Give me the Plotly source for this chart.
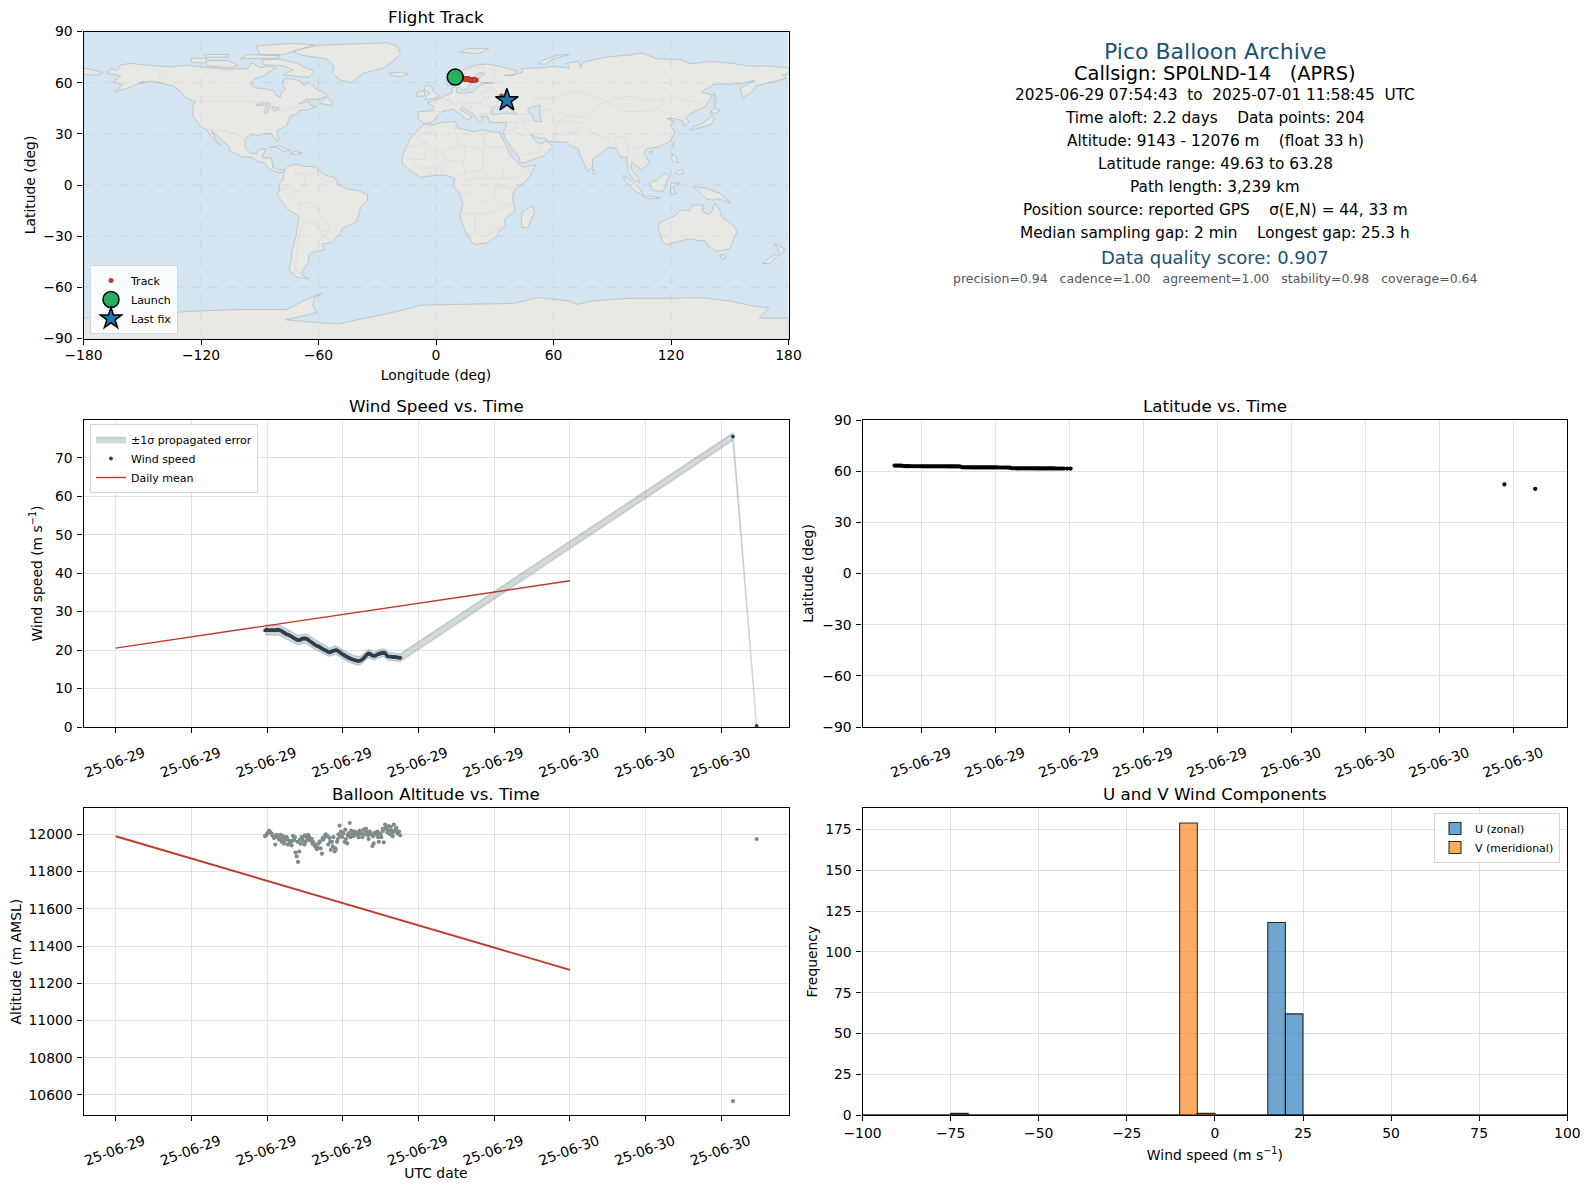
import plotly.graph_objects as go

# the page keeps an 8 px body margin, so the canvas is that much smaller than the window
PAGE_MARGIN = 8
W = 1589 - 2 * PAGE_MARGIN
H = 1189 - 2 * PAGE_MARGIN

# ---- timeline (UTC, 2025-06-29 unless stated) ----
float_time = [
    "07:54", "07:58", "08:02", "08:06", "08:10", "08:14", "08:18", "08:22", "08:26", "08:30", "08:34", "08:38",
    "08:42", "08:46", "08:50", "08:54", "08:58", "09:02", "09:06", "09:10", "09:14", "09:18", "09:22", "09:26",
    "09:30", "09:34", "09:38", "09:42", "09:46", "09:50", "09:54", "09:58", "10:02", "10:06", "10:10", "10:14",
    "10:18", "10:22", "10:26", "10:30", "10:34", "10:38", "10:42", "10:46", "10:50", "10:54", "10:58", "11:02",
    "11:06", "11:10", "11:14", "11:18", "11:22", "11:26", "11:30", "11:34", "11:38", "11:42", "11:46", "11:50",
    "11:54", "11:58", "12:02", "12:06", "12:10", "12:14", "12:18", "12:22", "12:26", "12:30", "12:34", "12:38",
    "12:42", "12:46", "12:50", "12:54", "12:58", "13:02", "13:06", "13:10", "13:14", "13:18", "13:22", "13:26",
    "13:30", "13:34", "13:38", "13:42", "13:46", "13:50", "13:54", "13:58", "14:02", "14:06", "14:10", "14:14",
    "14:18", "14:22", "14:26", "14:30", "14:34", "14:38", "14:42", "14:46", "14:50", "14:54", "14:58", "15:02",
]
last_time = ["2025-06-30 08:37", "2025-06-30 09:52"]

wind_speed = [
    25.1, 25.3, 25.2, 25.2, 25.1, 25.2, 25.2, 25.1, 25.2, 25.2, 25.3, 25.2,
    25.1, 25.0, 24.7, 24.5, 24.3, 24.1, 24.0, 23.9, 23.7, 23.5, 23.3, 23.1,
    22.9, 22.7, 22.6, 22.6, 22.7, 22.9, 23.0, 23.0, 23.0, 22.9, 22.7, 22.4,
    22.2, 22.0, 21.7, 21.5, 21.3, 21.1, 21.0, 20.8, 20.6, 20.4, 20.2, 20.0,
    19.9, 19.7, 19.5, 19.4, 19.5, 19.7, 19.8, 19.9, 20.0, 19.9, 19.7, 19.5,
    19.2, 19.0, 18.8, 18.6, 18.4, 18.2, 18.0, 17.9, 17.7, 17.6, 17.5, 17.4,
    17.3, 17.2, 17.2, 17.2, 17.4, 17.6, 17.9, 18.2, 18.6, 18.9, 19.1, 19.0,
    18.8, 18.6, 18.5, 18.5, 18.7, 18.9, 19.0, 19.1, 19.2, 19.3, 19.3, 19.2,
    18.8, 18.4, 18.3, 18.3, 18.3, 18.2, 18.2, 18.2, 18.1, 18.1, 18.0, 18.0,
]
wind_err = [
    1.3, 1.3, 1.3, 1.3, 1.3, 1.3, 1.3, 1.3, 1.3, 1.3, 1.3, 1.3,
    1.3, 1.3, 1.3, 1.3, 1.3, 1.3, 1.3, 1.3, 1.3, 1.2, 1.2, 1.2,
    1.2, 1.2, 1.2, 1.2, 1.2, 1.2, 1.2, 1.2, 1.2, 1.2, 1.2, 1.2,
    1.2, 1.2, 1.2, 1.2, 1.2, 1.2, 1.2, 1.2, 1.2, 1.1, 1.1, 1.1,
    1.1, 1.1, 1.1, 1.1, 1.1, 1.1, 1.1, 1.1, 1.1, 1.1, 1.1, 1.1,
    1.1, 1.1, 1.1, 1.1, 1.1, 1.1, 1.1, 1.1, 1.1, 1.1, 1.1, 1.1,
    1.1, 1.1, 1.1, 1.1, 1.1, 1.1, 1.1, 1.1, 1.1, 1.1, 1.1, 1.1,
    1.0, 1.0, 1.0, 1.0, 1.0, 1.0, 1.0, 1.0, 1.0, 1.0, 1.0, 1.0,
    1.0, 1.0, 1.0, 1.0, 1.0, 1.0, 1.0, 1.0, 1.0, 1.0, 1.0, 1.0,
]
last_wind = [75.5, 0.3]
last_wind_err = [0.9, 0.2]

mean_time = ["2025-06-29 00:00", "2025-06-30 00:00"]
mean_wind = [20.5, 38.0]
mean_alt = [11990, 11272]

# None = no fix at that stamp, the last few samples are spaced out
float_lat = [
    63.28, 63.28, 63.27, 63.26, 63.22, 63.12, 63.0, 62.92, 62.9, 62.9, 62.89, 62.89,
    62.88, 62.88, 62.87, 62.87, 62.87, 62.86, 62.86, 62.85, 62.85, 62.85, 62.84, 62.84,
    62.84, 62.83, 62.83, 62.83, 62.82, 62.82, 62.82, 62.81, 62.81, 62.8, 62.8, 62.8,
    62.79, 62.79, 62.78, 62.78, 62.75, 62.3, 62.25, 62.25, 62.24, 62.24, 62.23, 62.23,
    62.22, 62.22, 62.22, 62.21, 62.21, 62.2, 62.2, 62.2, 62.19, 62.19, 62.18, 62.18,
    62.18, 62.17, 62.17, 62.16, 62.16, 62.15, 62.15, 62.14, 62.14, 62.13, 62.13, 61.72,
    61.7, 61.7, 61.69, 61.69, 61.68, 61.68, 61.67, 61.67, 61.66, 61.66, 61.65, 61.65,
    61.64, 61.64, 61.63, 61.63, 61.62, 61.62, 61.61, 61.61, 61.6, 61.6, 61.59, 61.59,
    61.58, 61.58, 61.57, 61.57, 61.56, 61.56, 61.55, 61.55, None, 61.54, None, 61.53,
]
last_lat = [52.2, 49.63]

float_lon = [
    9.8, 9.9, 10.0, 10.1, 10.2, 10.3, 10.4, 10.5, 10.6, 10.7, 10.8, 10.9,
    11.0, 11.1, 11.2, 11.3, 11.4, 11.5, 11.6, 11.7, 11.8, 11.9, 12.0, 12.1,
    12.2, 12.3, 12.4, 12.5, 12.6, 12.7, 12.8, 12.9, 13.0, 13.1, 13.2, 13.3,
    13.4, 13.5, 13.6, 13.7, 13.8, 13.9, 14.0, 14.1, 14.2, 14.3, 14.4, 14.5,
    14.6, 14.7, 14.8, 14.9, 15.0, 15.1, 15.2, 15.3, 15.4, 15.5, 15.6, 15.7,
    15.8, 15.9, 16.0, 16.1, 16.2, 16.3, 16.4, 16.5, 16.6, 16.7, 16.8, 16.9,
    17.0, 17.1, 17.2, 17.3, 17.4, 17.5, 17.6, 17.7, 17.8, 17.9, 18.0, 18.1,
    18.2, 18.3, 18.4, 18.5, 18.6, 18.7, 18.8, 18.9, 19.0, 19.1, 19.2, 19.3,
    19.4, 19.5, 19.6, 19.7, 19.8, 19.9, 20.0, 20.1, 20.2, 20.3, 20.4, 20.5,
]
last_lon = [33.5, 36.2]

float_alt = [
    11990, 11998, 12008, 12020, 12012, 12004, 11992, 11980, 11945, 11998, 11985, 11972,
    11998, 11960, 11992, 11950, 11978, 11985, 11945, 11965, 11955, 11940, 11992, 11970,
    11902, 11882, 11852, 11908, 11950, 11985, 11965, 11945, 11960, 11985, 11998, 11985,
    11970, 11975, 11958, 11945, 11932, 11920, 11950, 11958, 11925, 11896, 11972, 11985,
    12000, 11990, 11945, 11980, 11917, 11960, 11985, 11908, 11917, 11960, 12000, 12047,
    12015, 11985, 12005, 11960, 11975, 11951, 12005, 12061, 12020, 12000, 11990, 12015,
    12000, 12010, 11985, 12020, 12005, 11985, 12025, 12000, 12030, 12010, 11975, 12015,
    12000, 11937, 11951, 12010, 12000, 12015, 11960, 12005, 11985, 12030, 11957, 12052,
    12030, 12010, 12045, 12000, 12020, 11990, 12052, 12020, 12035, 12005, 12015, 11995,
]
last_alt = [10567, 11975]

alt_extra_time = [
    "08:00", "08:08", "08:16", "08:24", "08:32", "08:40", "08:48", "08:56", "09:04", "09:12", "09:20", "09:28",
    "09:36", "09:44", "09:52", "10:00", "10:08", "10:16", "10:24", "10:32", "10:40", "10:48", "10:56", "11:04",
    "11:12", "11:20", "11:28", "11:36", "11:44", "11:52", "12:00", "12:08", "12:16", "12:24", "12:32", "12:40",
    "12:48", "12:56", "13:04", "13:12", "13:20", "13:28", "13:36", "13:44", "13:52", "14:00", "14:08", "14:16",
    "14:24", "14:32", "14:40", "14:48",
]
alt_extra = [
    12002, 12014, 11998, 11985, 11990, 11978, 11975, 11968, 11975, 11960, 11965, 11985,
    11960, 11972, 11985, 11995, 11975, 11968, 11950, 11935, 11928, 11962, 11980, 11992,
    11990, 11960, 11935, 11925, 11975, 11990, 12010, 12025, 11995, 11985, 12015, 12005,
    11995, 12012, 12000, 12020, 11995, 12005, 11990, 12002, 11985, 11998, 12018, 12035,
    12022, 12040, 12012, 12028,
]

launch_lon = [9.8]
launch_lat = [63.28]
fix_lon = [36.2]
fix_lat = [49.63]

# ---- U / V histogram ----
bin_centers = [
    -97.5, -92.5, -87.5, -82.5, -77.5, -72.5, -67.5, -62.5, -57.5, -52.5, -47.5, -42.5, -37.5, -32.5,
    -27.5, -22.5, -17.5, -12.5, -7.5, -2.5, 2.5, 7.5, 12.5, 17.5, 22.5, 27.5, 32.5, 37.5,
    42.5, 47.5, 52.5, 57.5, 62.5, 67.5, 72.5, 77.5, 82.5, 87.5, 92.5, 97.5,
]
u_counts = [
    0, 0, 0, 0, 0, 1, 0, 0, 0, 0, 0, 0, 0, 0,
    0, 0, 0, 0, 0, 0, 0, 0, 0, 118, 62, 0, 0, 0,
    0, 0, 0, 0, 0, 0, 0, 0, 0, 0, 0, 0,
]
v_counts = [
    0, 0, 0, 0, 0, 0, 0, 0, 0, 0, 0, 0, 0, 0,
    0, 0, 0, 0, 179, 1, 0, 0, 0, 0, 0, 0, 0, 0,
    0, 0, 0, 0, 0, 0, 0, 0, 0, 0, 0, 0,
]

# ---- map outlines (lon, lat), traced by eye ----
north_america = [
    (-168, 65.6), (-166, 68.3), (-163, 67), (-161, 70.3), (-156.5, 71.3), (-150, 70.5), (-141, 69.6), (-135, 69.3),
    (-128, 70.2), (-124, 69.7), (-115, 68.8), (-108, 68), (-102, 68), (-96, 68.3), (-94, 71.8), (-90, 68.8),
    (-85, 69.6), (-81.5, 68.5), (-86, 66), (-87, 64.5), (-93, 62), (-94.5, 59), (-92.5, 57), (-88, 56.5),
    (-82.5, 55), (-82, 52.9), (-79.5, 51.3), (-79, 54.5), (-76.7, 56.5), (-78.5, 58.8), (-77.5, 62.4), (-73, 62.1),
    (-69.5, 61), (-67.5, 58.4), (-64.5, 60.2), (-61.5, 56.5), (-58, 54.8), (-55.7, 52.3), (-60, 50.2), (-66.5, 50.2),
    (-70, 47.5), (-65, 49), (-64.5, 47), (-61, 45.9), (-66, 44), (-70, 43.8), (-70.5, 41.8), (-74, 40.7),
    (-75.5, 37.5), (-76, 35), (-80.8, 32), (-81.2, 29.8), (-80, 26.8), (-81, 25.2), (-82.8, 28), (-84.2, 30),
    (-88, 30.3), (-90, 29.1), (-94, 29.6), (-97.2, 27.5), (-97.7, 22.5), (-95, 18.6), (-91.5, 18.6), (-90.4, 21),
    (-87, 21.3), (-88.2, 17.6), (-88.8, 15.9), (-84, 15.8), (-83.4, 12), (-83.6, 10.5), (-80, 9), (-77.5, 8.7),
    (-78, 7.5), (-80, 7.3), (-83, 8.2), (-85.8, 10), (-87.5, 13), (-91.5, 14), (-94.5, 16.2), (-99, 16.6),
    (-105.5, 20), (-105.5, 22.5), (-109.3, 26.5), (-112.5, 29.5), (-114.7, 31.7), (-112.5, 27), (-110, 23), (-112, 25),
    (-115, 28.5), (-117.2, 32.5), (-120.6, 34.6), (-122.5, 37.8), (-124.3, 40.3), (-124, 46.2), (-123, 49),
    (-127.5, 51), (-130.3, 54.7), (-134, 58), (-139.8, 59.7), (-146, 60.8), (-151.5, 59.3), (-149, 61), (-153, 59),
    (-158, 56.5), (-164, 54.6), (-160, 58.7), (-165, 60.5), (-161, 64),
]
baffin = [(-80, 73.7), (-71, 71.5), (-67, 69), (-62, 66.8), (-65, 63), (-72, 64), (-78, 64.5), (-73, 67.5), (-78, 70), (-88, 70.5), (-89, 73.5)]
victoria = [(-117, 70), (-105, 68.8), (-101, 70), (-106, 73), (-117, 73)]
ellesmere = [(-90, 76.5), (-78, 76.5), (-62, 82.3), (-75, 83), (-92, 81.5)]
banks = [(-125, 72), (-118, 71.5), (-117, 74.3), (-125, 74.3)]
devon = [(-100, 74), (-80, 74.5), (-80, 75.8), (-96, 76.5)]
melville = [(-118, 75), (-106, 75), (-106, 76.5), (-118, 76.5)]
newfoundland = [(-59, 47.7), (-53, 46.7), (-53, 49), (-56, 51.5)]
cuba = [(-85, 22), (-80, 23), (-74.2, 20.2), (-78, 19.9), (-82, 22.4)]
hispaniola = [(-74.4, 18.5), (-72, 19.9), (-68.4, 18.6), (-71, 17.8)]
greenland = [
    (-73, 78.2), (-67, 80.2), (-60, 82), (-45, 82.6), (-25, 83.4), (-20, 81.5), (-18, 77), (-22, 72.5),
    (-27, 68.5), (-37, 65.7), (-43, 60), (-49, 61.5), (-53, 66), (-52, 69.5), (-56, 74), (-68, 76),
]
iceland = [(-24, 65.5), (-18, 66.3), (-14, 65), (-18, 63.5), (-22, 64)]
britain = [(-5.5, 50), (1, 51.2), (1.5, 52.8), (-1.5, 55), (-2, 57.6), (-5, 58.6), (-6, 56), (-3, 54), (-5, 52)]
ireland = [(-10, 52), (-6, 52.2), (-5.7, 54.8), (-8, 55.2), (-10, 54)]
svalbard = [(12, 78), (22, 77), (27, 80), (16, 80)]
novaya_zemlya = [(52, 71), (56, 70.8), (60, 74), (68, 76.5), (62, 76.2), (54, 73)]
south_america = [
    (-77.5, 8.7), (-75, 11), (-71.5, 12.4), (-68, 11), (-62, 10.7), (-57, 6), (-51.5, 4.2), (-50, 0),
    (-44.5, -2.5), (-39, -3.5), (-35, -5.5), (-35, -9), (-38.5, -13), (-39.5, -18), (-41, -22), (-48, -25.5),
    (-48.5, -28), (-53.5, -34), (-58, -34.5), (-57, -38), (-62, -39), (-65, -41), (-65, -45), (-68, -50),
    (-68.5, -52.5), (-65, -55), (-71, -54), (-75, -50), (-74, -44), (-73.5, -38), (-71.5, -30), (-70, -18.5),
    (-76, -14), (-81, -6), (-80, -2.5), (-80, 1), (-78, 3), (-77.5, 7),
]
africa = [
    (-6, 35.8), (-2, 35), (3, 36.8), (10, 37.2), (11, 33.5), (15, 32.3), (20, 31), (23, 32.5), (29, 31),
    (32.5, 31.2), (34, 27), (36, 23), (37.5, 18.8), (39.5, 15.5), (43, 12), (44, 10.5), (51, 11.8), (47.5, 4),
    (40.5, -2.5), (39, -6.5), (40.5, -15), (35, -20), (35.5, -24), (32.8, -26), (31, -30), (26, -34), (20, -34.8),
    (18.3, -33.5), (15, -27), (12, -18), (13.8, -11), (12, -5), (9, -1), (9.5, 4), (5, 5.8), (1, 5.8), (-4, 5.2),
    (-8, 4.5), (-13, 8.5), (-17, 12), (-17.5, 14.7), (-16.2, 20), (-13, 27.8), (-9.8, 31.5),
]
madagascar = [(44, -16), (49.3, -12), (50.3, -16), (47, -25), (44, -25), (43.5, -21)]
eurasia = [
    (-9.3, 38.7), (-9, 43), (-1.5, 43.5), (-1, 46), (-4.5, 48.3), (1.5, 50.5), (4, 52), (8, 54), (8.2, 57),
    (10.5, 57.5), (10.5, 54), (14, 54), (19, 54.5), (21, 57), (24, 59.3), (30, 60), (23, 60), (21.3, 62),
    (25, 65.5), (22, 65.7), (17.5, 62), (18, 59.5), (16, 56.3), (13, 55.5), (11, 59), (6, 58.2), (5, 62),
    (10.5, 64.5), (14.5, 68), (19, 70), (25.5, 71), (31, 70), (41, 67), (40, 64.7), (35, 64.3), (38, 64),
    (44, 66), (44, 68.3), (54, 68.7), (60.5, 69.5), (68, 68.5), (67, 71.5), (72.5, 72.5), (74, 68.5), (75, 72),
    (81, 73.5), (87, 75), (100, 76.4), (105, 77.5), (113, 74), (125, 73.5), (130, 71), (140, 72.5), (150, 71.5),
    (160, 69.7), (171, 69.8), (180, 68.7), (180, 65), (177, 64.5), (179, 62.5), (170, 60), (163, 58), (162, 55),
    (156.5, 51), (155.5, 57), (163, 61.5), (155, 59.3), (142, 59), (135.5, 54.7), (141, 52.5), (138, 46.5),
    (132, 43), (127.5, 39.7), (129.3, 37), (126.5, 34.5), (126, 37.7), (121, 39), (118, 39), (122, 37),
    (119.5, 35), (122, 31), (120, 26), (114, 22.3), (108, 21.5), (106, 19), (109.2, 13), (105, 8.8), (100, 13.5),
    (99.5, 9.5), (103.5, 4), (104, 1.3), (100.5, 3.5), (98, 8), (97.5, 16.5), (94.5, 16), (92, 21.5), (88, 22),
    (82, 16.5), (80, 15), (79.8, 10.3), (77.5, 8), (73, 19), (72.5, 21.5), (69, 22.5), (66.7, 25.2), (61, 25.2),
    (57, 25.7), (56, 27), (51, 28), (48.5, 30), (50, 26.5), (51.5, 25), (54, 24.2), (56.3, 26), (59.8, 22.5),
    (55, 17), (45, 13), (43, 13), (42.5, 16.5), (39, 21), (35, 28), (34.5, 31.3), (35.5, 33.5), (36, 36.7),
    (30.5, 36.5), (27, 37), (26.5, 40), (23, 40.5), (24, 38), (22.5, 36.5), (19.5, 41), (13.5, 45.7), (12.3, 44.3),
    (18.5, 40), (16, 38), (12.5, 41.5), (8.5, 44.4), (3, 43), (0, 39.5), (-2, 36.8), (-5.5, 36),
]
chukotka_tip = [(-180, 68.7), (-175, 67.5), (-170, 66), (-173, 64.4), (-180, 65)]
sakhalin = [(142, 54), (143.5, 49), (142, 46), (142, 50)]
honshu = [(130, 32), (131, 34), (136, 36), (140, 39.5), (141, 41), (142, 39), (140.5, 35.5), (136, 34), (132, 33)]
hokkaido = [(140, 42), (142, 45.4), (145, 43.5), (143, 42)]
taiwan = [(120.2, 23), (121.5, 25.2), (121, 22)]
hainan = [(108.7, 19.3), (110.5, 20), (110, 18.3)]
luzon = [(120.3, 16), (121, 18.5), (122.2, 17), (124, 13), (120.8, 14)]
mindanao = [(122, 7), (125.5, 9.5), (126.5, 7), (124, 6)]
borneo = [(109, 1.5), (113, 3), (117, 7), (119, 5), (117.5, 1), (116, -4), (110.5, -3)]
sumatra = [(95.3, 5.6), (98, 4), (104, -2), (106, -5.8), (102, -4), (97, 2)]
java = [(105.5, -6.5), (110, -6.6), (114.5, -7.7), (110, -8.2), (106, -7.5)]
sulawesi = [(119.5, -5.5), (120, 0.8), (125, 1.5), (121, -1), (122.5, -5)]
new_guinea = [(131, -1), (138, -1.8), (145, -5), (150.5, -10.5), (144, -8), (141, -9), (138, -8), (134, -3.5)]
sri_lanka = [(80, 9.5), (82, 7.5), (80.5, 6), (79.8, 7.5)]
australia = [
    (114, -22), (113.5, -26), (115.5, -33), (118, -35), (124, -33), (129, -31.5), (134, -32.5), (137.8, -32.8),
    (138.5, -35.5), (143, -38.8), (147, -38.2), (150, -37.3), (151.5, -33), (153.5, -28), (153, -25), (149, -21),
    (146, -19), (145, -15), (143, -11), (142, -11), (141, -15), (139.5, -17.5), (136, -15.5), (136.5, -12),
    (131, -11.5), (129.5, -15), (125, -14.5), (122, -18), (117, -20.5),
]
tasmania = [(145, -41), (148, -41), (147.5, -43.5), (146, -43.5)]
nz_north = [(172.8, -34.5), (178.3, -37.7), (175.3, -41.5), (174.7, -38)]
nz_south = [(172.7, -40.6), (174.2, -41.7), (170.5, -46), (166.6, -46), (170, -43)]
antarctica = [
    (-180, -90), (-180, -78), (-160, -77), (-148, -76), (-125, -74), (-100, -73), (-85, -73), (-76, -73), (-68, -68),
    (-58, -63.3), (-62, -66), (-63, -70), (-61, -75), (-77, -79), (-62, -80.5), (-50, -81.5), (-36, -78), (-27, -76),
    (-16, -73), (-8, -70.5), (10, -70), (30, -69.5), (39, -69.5), (52, -66), (68, -68), (72, -70), (80, -68),
    (97, -66.5), (115, -66.5), (135, -66), (150, -68), (162, -71), (170, -72), (165, -78), (180, -78), (180, -90),
]
black_sea = [(28, 43), (29, 41.2), (35, 42), (41.5, 41.5), (38, 44.5), (37, 46.5), (33.5, 45), (31, 46.5), (28.5, 45)]
caspian = [(47, 45), (53, 46.8), (53, 41), (54, 37), (50, 37.5), (49, 41), (47, 43)]
superior = [(-92, 46.8), (-85, 46.7), (-85, 48), (-89, 48.5)]
michigan = [(-87.8, 42), (-86.3, 42), (-85, 45.7), (-87, 45.5)]
huron = [(-84, 46), (-80, 45), (-82, 43.2), (-83.5, 44)]

land_shapes = [
    north_america, baffin, victoria, ellesmere, banks, devon, melville, newfoundland, cuba, hispaniola,
    greenland, iceland, britain, ireland, svalbard, novaya_zemlya, south_america, africa, madagascar, eurasia,
    chukotka_tip, sakhalin, honshu, hokkaido, taiwan, hainan, luzon, mindanao, borneo, sumatra, java, sulawesi,
    new_guinea, sri_lanka, australia, tasmania, nz_north, nz_south, antarctica,
]
water_shapes = [black_sea, caspian, superior, michigan, huron]

borders = [
    [(-141, 69.6), (-141, 60)], [(-123, 49), (-95, 49), (-89, 48), (-83, 46), (-79, 43), (-75, 45), (-70, 46), (-67, 47), (-67, 45)],
    [(-117, 32.5), (-106, 31.7), (-101, 29.5), (-97.2, 26)], [(-92, 14.6), (-91, 17.8), (-89, 17.8)],
    [(-72, 12), (-72, 7), (-67, 6), (-67, 1), (-70, -4), (-74, -7), (-70, -11), (-65, -10), (-60, -14), (-58, -20), (-55, -24), (-54, -27), (-57.5, -30), (-53.5, -33.5)],
    [(-67, 6), (-60, 8), (-60, 5), (-57, 2), (-52, 2), (-51.5, 4.2)], [(-80, -3), (-75, -1), (-70, -4)],
    [(-70, -18), (-68, -22), (-70, -30), (-71, -40), (-72, -50), (-68.5, -52)], [(-68, -22), (-63, -22), (-58, -20)],
    [(-63, -22), (-58, -27), (-54, -27)], [(-70, -11), (-69, -16), (-70, -18)],
    [(-13, 27.8), (-8.7, 27.3), (-8.7, 29), (-2, 32), (-2, 35)], [(-8.7, 27.3), (3, 19), (12, 23.5), (10, 30), (9, 37)],
    [(-17, 21), (-5, 25), (-6, 15), (-12, 15), (-16.5, 16)], [(12, 23.5), (15, 23), (24, 20), (25, 31)],
    [(25, 22), (36.5, 22)], [(24, 20), (24, 9), (28, 4), (34, 4), (41, 4), (48, 8), (43, 11)], [(34, 4), (34, 10), (36.5, 14.5), (38, 18)],
    [(3, 19), (4, 15), (14, 13), (15, 23)], [(14, 13), (15, 7), (9.5, 4)], [(-12, 15), (-11, 12), (-8, 10), (-3, 10), (1, 12), (4, 15)],
    [(3, 6), (3, 12)], [(-3, 5), (-3, 10)], [(15, 7), (24, 9)], [(14, 2), (18, 4), (28, 4)], [(12, -5), (17, -5), (22, -11), (30, -8), (30, -1), (34, 4)],
    [(12, -17), (24, -17), (30, -15), (40, -11)], [(20, -18), (20, -29), (16.5, -29)], [(24, -17), (28, -22), (32, -26)], [(29, -22), (27, -29), (32, -26)],
    [(30, -1), (41, -2)], [(30, -8), (34, -11), (40, -11)],
    [(-1.5, 43.5), (3, 42.5)], [(-9, 42), (-7, 37)], [(2.5, 51), (8, 49), (7.5, 47.5), (7, 44)], [(7, 53.5), (6, 50), (8, 49)],
    [(14, 54), (15, 51), (12, 48), (7.5, 47.5)], [(12, 48), (17, 48), (22.5, 48), (24, 51), (23, 54), (21, 55)], [(13.5, 46), (17, 46), (22.5, 48)],
    [(17, 46), (19.5, 42)], [(22.5, 48), (28, 45.5)], [(22, 41), (26, 41.5), (28, 42)], [(28, 45.5), (30.5, 46)],
    [(24, 51), (31, 52), (40, 49.5), (38, 47)], [(23, 54), (28, 56), (28, 59.5)], [(28, 56), (32, 53), (31, 52)], [(28, 60), (30, 65), (29, 69.5)],
    [(12.5, 60), (16, 68), (20, 69), (25, 69), (24, 66)], [(36, 36.7), (44, 37), (48, 38)], [(44, 37), (46, 33), (48, 30)], [(36, 32), (39, 32), (44, 29), (48, 29)],
    [(39, 32), (42, 37)], [(44, 17.5), (52, 19), (55, 22), (52, 24)], [(52, 19), (53, 16.5)], [(44, 39.5), (48, 38)], [(41.5, 41.5), (47, 41.5)],
    [(53, 41), (61, 35.5), (61, 30), (61, 25.2)], [(61, 35.5), (65, 37.5), (74, 37), (71, 32), (66, 29.5), (61, 30)], [(74, 37), (78, 35), (79, 31), (88, 27), (92, 28), (97, 28)],
    [(71, 32), (74, 32), (71, 25), (69, 22.5)], [(88, 27), (88, 22)], [(92, 25), (92, 21.5)], [(97, 28), (98, 24), (101, 21.5), (106, 23), (108, 21.5)], [(98, 24), (98, 16)],
    [(101, 21.5), (105, 18), (107, 14), (105, 10.5)], [(100, 20), (105, 15)], [(100, 6.5), (102, 6)],
    [(49, 46), (51, 51), (61, 51), (70, 55), (77, 53.5), (87, 49)], [(53, 41), (56, 45), (66, 41), (73, 39.5), (80, 42), (83, 47), (87, 49)], [(66, 41), (61, 35.5)],
    [(87, 49), (98, 52), (106, 50), (116, 50), (120, 53), (127, 50), (135, 48), (131, 43)], [(87, 49), (97, 43), (111, 43.5), (116, 47), (116, 50)], [(124, 40), (131, 43)], [(124.5, 38), (128.5, 38.5)],
]

# longitude / latitude grid on the map
map_lon_ticks = [-180, -120, -60, 0, 60, 120, 180]
map_lat_ticks = [-90, -60, -30, 0, 30, 60, 90]
date_ticks_wide = 4 * 3600000
date_ticks_lat = 3 * 3600000

info_lines = [
    "Pico Balloon Archive",
    "Callsign: SP0LND-14   (APRS)",
    "2025-06-29 07:54:43  to  2025-07-01 11:58:45  UTC",
    "Time aloft: 2.2 days    Data points: 204",
    "Altitude: 9143 - 12076 m    (float 33 h)",
    "Latitude range: 49.63 to 63.28",
    "Path length: 3,239 km",
    "Position source: reported GPS    σ(E,N) = 44, 33 m",
    "Median sampling gap: 2 min    Longest gap: 25.3 h",
    "Data quality score: 0.907",
    "precision=0.94   cadence=1.00   agreement=1.00   stability=0.98   coverage=0.64",
]
info_y = [51, 73.7, 95, 118, 141, 164, 187, 210, 233, 257.7, 278.7]
info_size = [22, 19.4, 15.3, 15.3, 15.3, 15.3, 15.3, 15.3, 15.3, 18, 12.5]
info_color = ["#1a5276", "#000000", "#000000", "#000000", "#000000", "#000000", "#000000", "#000000", "#000000", "#1a5276", "#555555"]

FONT = "DejaVu Sans"
OCEAN = "#d4e6f1"
LAND = "#e8e8e4"
RED = "#c0392b"
NAVY = "#2c3e50"
GREY = "#7f8c8d"
GRID = "#e2e2e2"


def full_times(times):
    return ["2025-06-29 " + t for t in times]


# window pixels -> paper fractions
def px(x):
    return (x - PAGE_MARGIN) / W


def py(y):
    return 1 - (y - PAGE_MARGIN) / H


def xdom(a, b):
    return [px(a), px(b)]


def ydom(top, bottom):
    return [py(bottom), py(top)]


def axis_style(**kw):
    d = dict(showline=True, linecolor="black", linewidth=1.1, mirror=True, ticks="outside", ticklen=5, tickwidth=1.1,
             tickcolor="black", showgrid=True, gridcolor=GRID, gridwidth=1, zeroline=False, automargin=False,
             tickfont=dict(size=13.9, color="black"), title_font=dict(size=13.9, color="black"))
    d.update(kw)
    return d


fig = go.Figure()

# ---- flight track panel ----
for shape in land_shapes:
    fig.add_trace(go.Scatter(x=[p[0] for p in shape] + [shape[0][0]], y=[p[1] for p in shape] + [shape[0][1]],
                             mode="lines", fill="toself", fillcolor=LAND, line=dict(color="#b9bfc2", width=0.8),
                             hoverinfo="skip", showlegend=False, xaxis="x", yaxis="y"))
for shape in water_shapes:
    fig.add_trace(go.Scatter(x=[p[0] for p in shape] + [shape[0][0]], y=[p[1] for p in shape] + [shape[0][1]],
                             mode="lines", fill="toself", fillcolor=OCEAN, line=dict(color="#b9bfc2", width=0.8),
                             hoverinfo="skip", showlegend=False, xaxis="x", yaxis="y"))
for line in borders:
    fig.add_trace(go.Scatter(x=[p[0] for p in line], y=[p[1] for p in line], mode="lines",
                             line=dict(color="#d9dadb", width=0.7), hoverinfo="skip", showlegend=False,
                             xaxis="x", yaxis="y"))

fig.add_trace(go.Scatter(x=float_lon + last_lon, y=float_lat + last_lat, mode="markers", name="Track",
                         marker=dict(color=RED, size=5), xaxis="x", yaxis="y", legend="legend"))
fig.add_trace(go.Scatter(x=launch_lon, y=launch_lat, mode="markers", name="Launch",
                         marker=dict(color="#27ae60", size=16, line=dict(color="black", width=1.5)),
                         xaxis="x", yaxis="y", legend="legend"))
fig.add_trace(go.Scatter(x=fix_lon, y=fix_lat, mode="markers", name="Last fix",
                         marker=dict(color="#1f77b4", size=17, symbol="star", line=dict(color="black", width=1.5)),
                         xaxis="x", yaxis="y", legend="legend"))

# ---- wind speed panel ----
wind_x = full_times(float_time) + last_time
wind_y = wind_speed + last_wind
wind_e = wind_err + last_wind_err
upper = [v + e for v, e in zip(wind_y, wind_e)]
lower = [v - e for v, e in zip(wind_y, wind_e)]
fig.add_trace(go.Scatter(x=wind_x + wind_x[::-1], y=upper + lower[::-1], mode="lines", fill="toself",
                         fillcolor="rgba(127,147,150,0.35)", line=dict(color="rgba(127,147,150,0.35)", width=1.5),
                         name="±1σ propagated error", hoverinfo="skip", xaxis="x2", yaxis="y2", legend="legend2"))
fig.add_trace(go.Scatter(x=wind_x, y=wind_y, mode="markers", name="Wind speed",
                         marker=dict(color=NAVY, size=3.8), xaxis="x2", yaxis="y2", legend="legend2"))
fig.add_trace(go.Scatter(x=mean_time, y=mean_wind, mode="lines", name="Daily mean",
                         line=dict(color=RED, width=1.4), xaxis="x2", yaxis="y2", legend="legend2"))

# ---- latitude panel ----
fig.add_trace(go.Scatter(x=wind_x, y=float_lat + last_lat, mode="markers", showlegend=False,
                         marker=dict(color="black", size=4.2), xaxis="x3", yaxis="y3"))

# ---- altitude panel ----
fig.add_trace(go.Scatter(x=wind_x + full_times(alt_extra_time), y=float_alt + last_alt + alt_extra, mode="markers",
                         showlegend=False, marker=dict(color=GREY, size=4.2), xaxis="x4", yaxis="y4"))
fig.add_trace(go.Scatter(x=mean_time, y=mean_alt, mode="lines", showlegend=False,
                         line=dict(color=RED, width=1.9), xaxis="x4", yaxis="y4"))

# ---- U / V histogram panel ----
fig.add_trace(go.Bar(x=bin_centers, y=u_counts, width=5, name="U (zonal)",
                     marker=dict(color="rgba(31,119,180,0.65)", line=dict(color="rgba(0,0,0,0.8)", width=1.1)),
                     xaxis="x5", yaxis="y5", legend="legend3"))
fig.add_trace(go.Bar(x=bin_centers, y=v_counts, width=5, name="V (meridional)",
                     marker=dict(color="rgba(255,127,14,0.65)", line=dict(color="rgba(0,0,0,0.8)", width=1.1)),
                     xaxis="x5", yaxis="y5", legend="legend3"))

left = (83.5, 788.5)
right = (862.5, 1567.3)
rows = [(31.5, 338.5), (420, 727), (808.3, 1115)]

wide_range = ["2025-06-28 22:18", "2025-06-30 11:33"]
lat_range = ["2025-06-29 06:36", "2025-06-30 11:10"]

fig.update_layout(
    width=W, height=H, margin=dict(l=0, r=0, t=0, b=0), paper_bgcolor="white", plot_bgcolor="white",
    font=dict(family=FONT, color="black"), barmode="overlay", hovermode=False,
    xaxis=axis_style(domain=xdom(*left), anchor="y", range=[-180, 180], tickvals=map_lon_ticks, showgrid=False,
                     ticklabelstandoff=-1, title=dict(text="Longitude (deg)", standoff=8)),
    yaxis=axis_style(domain=ydom(*rows[0]), anchor="x", range=[-90, 90], tickvals=map_lat_ticks, showgrid=False,
                     ticklabelstandoff=2, title=dict(text="Latitude (deg)", standoff=4)),
    xaxis2=axis_style(domain=xdom(*left), anchor="y2", type="date", range=wide_range, tick0="2025-06-29 00:00",
                      dtick=date_ticks_wide, tickformat="%y-%m-%d", tickangle=-20, ticklabelshift=28, ticklabelstandoff=7),
    yaxis2=axis_style(domain=ydom(*rows[1]), anchor="x2", range=[0, 79.8], tick0=0, dtick=10, ticklabelstandoff=2,
                      title=dict(text="Wind speed (m s<sup>−1</sup>)", standoff=9)),
    xaxis3=axis_style(domain=xdom(*right), anchor="y3", type="date", range=lat_range, tick0="2025-06-29 00:00",
                      dtick=date_ticks_lat, tickformat="%y-%m-%d", tickangle=-20, ticklabelshift=28, ticklabelstandoff=7),
    yaxis3=axis_style(domain=ydom(*rows[1]), anchor="x3", range=[-90, 90], tick0=-90, dtick=30, ticklabelstandoff=2,
                      title=dict(text="Latitude (deg)", standoff=5)),
    xaxis4=axis_style(domain=xdom(*left), anchor="y4", type="date", range=wide_range, tick0="2025-06-29 00:00",
                      dtick=date_ticks_wide, tickformat="%y-%m-%d", tickangle=-20, ticklabelshift=28, ticklabelstandoff=7,
                      title=dict(text="UTC date", standoff=6)),
    yaxis4=axis_style(domain=ydom(*rows[2]), anchor="x4", range=[10492, 12140], tick0=10600, dtick=200, ticklabelstandoff=2,
                      tickformat="d", title=dict(text="Altitude (m AMSL)", standoff=5)),
    xaxis5=axis_style(domain=xdom(*right), anchor="y5", range=[-100, 100], tick0=-100, dtick=25,
                      title=dict(text="Wind speed (m s<sup>−1</sup>)", standoff=10)),
    yaxis5=axis_style(domain=ydom(*rows[2]), anchor="x5", range=[0, 188], tick0=0, dtick=25, ticklabelstandoff=2,
                      title=dict(text="Frequency", standoff=4)),
    legend=dict(x=px(90), y=py(334), xanchor="left", yanchor="bottom", bgcolor="rgba(255,255,255,0.85)",
                bordercolor="#d5d5d5", borderwidth=1, font=dict(size=11), tracegroupgap=0),
    legend2=dict(x=px(90), y=py(424), xanchor="left", yanchor="top", bgcolor="rgba(255,255,255,0.85)",
                 bordercolor="#d5d5d5", borderwidth=1, font=dict(size=11), tracegroupgap=0),
    legend3=dict(x=px(1560), y=py(813), xanchor="right", yanchor="top", bgcolor="rgba(255,255,255,0.85)",
                 bordercolor="#d5d5d5", borderwidth=1, font=dict(size=11), tracegroupgap=0),
)

# ocean under the land polygons
fig.add_shape(type="rect", xref="x", yref="y", x0=-180, x1=180, y0=-90, y1=90, layer="below",
              fillcolor=OCEAN, line=dict(width=0))

# dashed graticule sits over the land in the map panel
for lon in map_lon_ticks[1:-1]:
    fig.add_shape(type="line", xref="x", yref="y", x0=lon, x1=lon, y0=-90, y1=90, layer="above",
                  line=dict(color="rgba(128,128,128,0.18)", width=0.8, dash="dash"))
for lat in map_lat_ticks[1:-1]:
    fig.add_shape(type="line", xref="x", yref="y", x0=-180, x1=180, y0=lat, y1=lat, layer="above",
                  line=dict(color="rgba(128,128,128,0.18)", width=0.8, dash="dash"))

# panel titles
titles = ["Flight Track", "Wind Speed vs. Time", "Latitude vs. Time", "Balloon Altitude vs. Time", "U and V Wind Components"]
title_x = [sum(left) / 2, sum(left) / 2, sum(right) / 2, sum(left) / 2, sum(right) / 2]
title_y = [rows[0][0], rows[1][0], rows[1][0], rows[2][0], rows[2][0]]
for t, tx, ty in zip(titles, title_x, title_y):
    fig.add_annotation(text=t, xref="paper", yref="paper", x=px(tx), y=py(ty - 2), xanchor="center",
                       yanchor="bottom", showarrow=False, font=dict(size=16.7, color="black"))

for line, ly, ls, lc in zip(info_lines, info_y, info_size, info_color):
    fig.add_annotation(text=line, xref="paper", yref="paper", x=px(1215), y=py(ly), xanchor="center",
                       yanchor="middle", showarrow=False, font=dict(size=ls, color=lc))

fig.write_html("out.html")
